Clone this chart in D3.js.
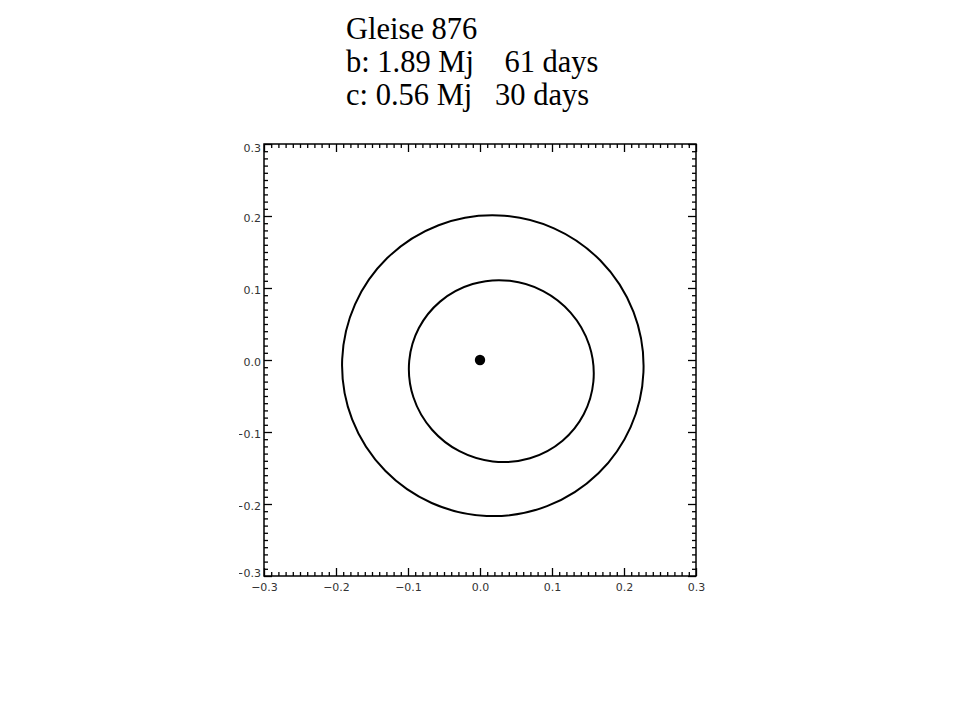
<!DOCTYPE html>
<html>
<head>
<meta charset="utf-8">
<script src="https://cdn.jsdelivr.net/npm/d3@7"></script>
<style>
  html, body { margin: 0; padding: 0; background: #fff; }
  svg { display: block; }
  .title { font-family: "Liberation Serif", "Times New Roman", serif; font-size: 30.5px; fill: #000; white-space: pre; }
</style>
</head>
<body>
<script>
// ---- data ----
const titleLines = ["Gleise 876", "b: 1.89 Mj    61 days", "c: 0.56 Mj   30 days"];
const majorTicks = [-0.3, -0.2, -0.1, 0.0, 0.1, 0.2, 0.3];
const xTickLabels = ["\u22120.3", "\u22120.2", "\u22120.1", "0.0", "0.1", "0.2", "0.3"];
const yTickLabels = ["\u22120.3", "\u22120.2", "\u22120.1", "0.0", "0.1", "0.2", "0.3"];
const minorStep = 0.01;
const axisDomain = [-0.3, 0.3];

const planets = ["b", "c"];
const orbitCenterX = [0.0178, 0.0296];
const orbitCenterY = [-0.0079, -0.0155];
const orbitSemiMajor = [0.2095, 0.1292];
const orbitSemiMinor = [0.2088, 0.1255];
const orbitAngleDeg = [-24, -27.6];

const starX = [0.0];
const starY = [0.0];

// ---- layout ----
const W = 960, H = 720;
const plotLeft = 264, plotRight = 696, plotTop = 144, plotBottom = 576;

const svg = d3.select("body").append("svg").attr("width", W).attr("height", H);

const x = d3.scaleLinear().domain(axisDomain).range([plotLeft, plotRight]);
const y = d3.scaleLinear().domain(axisDomain).range([plotBottom, plotTop]);

// title
svg.append("g").selectAll("text").data(titleLines).join("text")
  .attr("class", "title")
  .attr("x", 346)
  .attr("y", (d, i) => 39 + i * 33)
  .text(d => d);

// minor ticks
const nMinor = Math.round((axisDomain[1] - axisDomain[0]) / minorStep);
const minorTicks = d3.range(nMinor + 1).map(i => +(axisDomain[0] + i * minorStep).toFixed(2))
  .filter(v => !majorTicks.some(m => Math.abs(m - v) < 1e-9));

function styleAxis(g) {
  g.select(".domain").remove();
  g.attr("font-family", "DejaVu Sans, sans-serif").attr("font-size", 11);
  g.selectAll(".tick line").attr("stroke", "#000").attr("stroke-width", 1.3);
  g.selectAll(".tick text").attr("fill", "#333")
    .style("font-family", "'DejaVu Sans', sans-serif").style("font-size", "11px");
}

const majorLen = 8, minorLen = 4;

// bottom
svg.append("g").attr("transform", `translate(0,${plotBottom})`)
  .call(d3.axisBottom(x).tickValues(majorTicks).tickSize(-majorLen).tickPadding(7)
    .tickFormat((d, i) => xTickLabels[i]))
  .call(styleAxis);
svg.append("g").attr("transform", `translate(0,${plotBottom})`)
  .call(d3.axisBottom(x).tickValues(minorTicks).tickSize(-minorLen).tickFormat(""))
  .call(styleAxis);
// top
svg.append("g").attr("transform", `translate(0,${plotTop})`)
  .call(d3.axisTop(x).tickValues(majorTicks).tickSize(-majorLen).tickFormat(""))
  .call(styleAxis);
svg.append("g").attr("transform", `translate(0,${plotTop})`)
  .call(d3.axisTop(x).tickValues(minorTicks).tickSize(-minorLen).tickFormat(""))
  .call(styleAxis);
// left
const clip = svg.append("defs").append("clipPath").attr("id", "yclip");
clip.append("rect").attr("x", 239 - plotLeft).attr("y", -10).attr("width", W).attr("height", H + 20);
const nY = majorTicks.length;
svg.append("g").attr("transform", `translate(${plotLeft},0)`)
  .attr("clip-path", "url(#yclip)")
  .call(d3.axisLeft(y).tickValues(majorTicks).tickSize(-majorLen).tickPadding(3)
    .tickFormat((d, i) => yTickLabels[i]))
  .call(styleAxis)
  .call(g => g.selectAll(".tick text").attr("dy", (d, i) => i === 0 ? "0em" : (i === nY - 1 ? "0.64em" : "0.5em")));
svg.append("g").attr("transform", `translate(${plotLeft},0)`)
  .call(d3.axisLeft(y).tickValues(minorTicks).tickSize(-minorLen).tickFormat(""))
  .call(styleAxis);
// right
svg.append("g").attr("transform", `translate(${plotRight},0)`)
  .call(d3.axisRight(y).tickValues(majorTicks).tickSize(-majorLen).tickFormat(""))
  .call(styleAxis);
svg.append("g").attr("transform", `translate(${plotRight},0)`)
  .call(d3.axisRight(y).tickValues(minorTicks).tickSize(-minorLen).tickFormat(""))
  .call(styleAxis);

// frame
svg.append("rect")
  .attr("x", x(axisDomain[0])).attr("y", y(axisDomain[1]))
  .attr("width", x(axisDomain[1]) - x(axisDomain[0]))
  .attr("height", y(axisDomain[0]) - y(axisDomain[1]))
  .attr("fill", "none").attr("stroke", "#000").attr("stroke-width", 1.5);

// orbits
svg.append("g").selectAll("ellipse").data(planets).join("ellipse")
  .attr("cx", (d, i) => x(orbitCenterX[i]))
  .attr("cy", (d, i) => y(orbitCenterY[i]))
  .attr("rx", (d, i) => x(orbitSemiMajor[i]) - x(0))
  .attr("ry", (d, i) => y(0) - y(orbitSemiMinor[i]))
  .attr("transform", (d, i) => `rotate(${-orbitAngleDeg[i]},${x(orbitCenterX[i])},${y(orbitCenterY[i])})`)
  .attr("fill", "none").attr("stroke", "#000").attr("stroke-width", 2);

// star
svg.append("g").selectAll("circle").data(starX).join("circle")
  .attr("cx", (d, i) => x(starX[i]))
  .attr("cy", (d, i) => y(starY[i]))
  .attr("r", 5.2)
  .attr("fill", "#000");
</script>
</body>
</html>
